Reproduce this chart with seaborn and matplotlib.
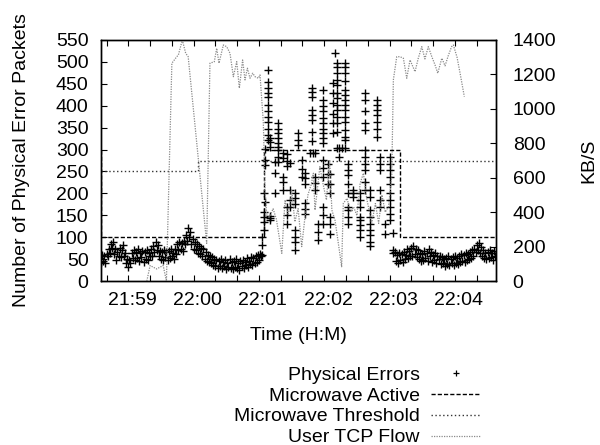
import numpy as np
import matplotlib
matplotlib.use("Agg")
import matplotlib.pyplot as plt
from matplotlib.lines import Line2D
from matplotlib.transforms import ScaledTranslation
import seaborn as sns

# time axis: seconds relative to 21:59:00
# quiet period before the microwave burst, one sample per second from t=-25
calm_left_start = -25
calm_left = [
    44, 60, 46, 58, 42, 62, 56, 74, 64, 84,
    76, 90, 62, 74, 48, 66, 58, 76, 54, 70,
    82, 56, 64, 42, 50, 32, 48, 40, 64, 52,
    70, 48, 66, 52, 72, 46, 64, 54, 68, 44,
    66, 50, 70, 48, 64, 56, 74, 58, 80, 66,
    88, 70, 82, 56, 68, 50, 66, 48, 70, 54,
    66, 48, 68, 52, 72, 56, 64, 50, 74, 62,
    84, 70, 90, 74, 86, 68, 92, 84, 104, 92,
    120, 100, 112, 84, 96, 74, 90, 70, 84, 64,
    80, 62, 76, 56, 72, 50, 66, 46, 60, 44,
    56, 40, 54, 36, 50, 34, 48, 30, 46, 34,
    50, 30, 44, 34, 48, 28, 42, 32, 50, 30,
    44, 28, 46, 32, 50, 30, 42, 26, 46, 34,
    48, 30, 44, 36, 52, 32, 46, 38, 54, 36,
    52, 40, 58, 44, 60, 48, 62, 56,
]
# quiet period after the burst
calm_right_start = 245
calm_right = [
    66, 46, 60, 42, 64, 48, 62, 44, 66, 50, 60,
    72, 52, 68, 56, 76, 58, 80, 62, 74, 54, 70,
    50, 64, 46, 62, 48, 68, 52, 64, 46, 72, 56, 66, 44, 60, 48, 64, 42, 58, 50,
    56, 38, 54, 40, 50, 34, 52, 38, 56, 36, 50, 40, 54, 36, 56, 42, 52, 38, 58, 44,
    62, 46, 60, 44, 64, 48, 62, 50, 66, 52, 70, 58, 74,
    66, 82, 70, 86, 64, 78, 58, 70, 52, 64,
    50, 66, 52, 70, 54, 64, 48, 68, 56,
]
# burst: several error counts per time stamp
burst_t = [122.6, 124.4, 126.0, 128.6, 130.5, 134.8, 137.8, 142.4, 145.5, 148.6,
           153.2, 156.2, 159.3, 162.4, 167.0, 168.5, 170.0, 171.5, 174.6, 179.2,
           183.8, 185.3, 188.4, 190.0, 191.5, 194.0, 196.0, 199.1, 202.1, 206.7,
           212.9, 217.5, 222.0, 228.2, 231.3, 235.9, 240.4, 243.5]
burst_v = [
    [59, 82, 101],
    [116, 135, 147, 158, 200],
    [181, 265, 276, 302],
    [321, 333, 348, 363, 375, 387, 402, 420, 430, 440, 455, 481],
    [139, 143, 148, 306, 318, 326],
    [200, 246, 272],
    [271, 283, 298, 306, 314, 326, 337, 348, 360],
    [208, 227, 238, 280, 291],
    [131, 150, 170, 262, 275, 290],
    [170, 185, 208, 270],
    [71, 90, 101, 116, 175, 190, 200],
    [310, 322, 337],
    [238, 256, 276],
    [154, 165, 177, 222, 234, 246],
    [291],
    [320, 341, 367, 379, 391, 421, 432, 440],
    [291],
    [208, 223, 238, 291],
    [93, 112, 131],
    [131, 150, 170, 238, 258, 276, 314, 326, 337, 348, 360, 372, 387, 399, 414, 437],
    [222, 245, 268],
    [108, 131, 147, 200, 222, 245],
    [337, 360, 380, 406, 429, 452],
    [520],
    [303, 341, 360, 375, 391, 402, 418, 429, 448, 459, 474, 489, 497],
    [284, 303],
    [303],
    [303, 322, 329, 344, 363, 375, 391, 402, 414, 425, 437, 456, 474, 489, 497],
    [131, 147, 162, 170, 200, 222, 242, 253, 268],
    [192, 200, 208],
    [101, 116, 128, 139, 147, 170, 185, 200],
    [208, 227, 253, 268, 283, 298, 344, 360, 387, 414, 429],
    [79, 90, 105, 116, 131, 147, 162, 192, 208],
    [329, 348, 363, 379, 391, 402, 414],
    [170, 185, 208, 253, 268, 283],
    [108, 131],
    [139, 154, 170, 185, 200, 222, 238, 253, 268, 283],
    [63, 71, 110],
]

active_t = [-25, -25, 125, 250, 338]
active_v = [300, 100, 300, 100, 100]
thresh_t = [-25, 64, 338]
thresh_v = [250, 275, 275]

tcp_t = [17, 20, 26, 32, 35, 40, 44.5, 46, 49.6, 52.7, 55, 72, 75, 79, 81.2, 83.3,
         87.3, 90.4, 93.4, 96.5, 99.6, 102, 105, 107.2, 109.4, 111.8, 114.3, 116.4,
         119.5, 121, 124, 125.6, 127.2, 130, 133, 136, 141, 144, 147, 150, 153, 156,
         159.3, 162, 165, 168, 170, 171.5, 176, 179, 182, 185, 187, 190, 196, 197.5,
         201, 204, 207, 210, 213, 216, 219, 223.6, 227, 230, 233, 236, 239, 242,
         243.5, 246.6, 249.6, 252.7, 255.8, 258.8, 263.4, 266.4, 269.6, 272.5, 275.6,
         279, 281.8, 284.3, 288, 291, 294, 297, 298.6, 302, 304.8, 308.7]
tcp_kbs = [0, 90, 70, 90, 0, 1265, 1303, 1313, 1400, 1323, 1303, 219, 1265, 1274, 1352, 1265,
           1371, 1361, 1323, 1187, 1274, 1120, 1284, 1168, 1236, 1178, 1207, 1187,
           1178, 1197, 925, 529, 383, 374, 420, 360, 161, 471, 383, 529, 344, 420,
           200, 354, 500, 560, 626, 412, 664, 560, 471, 703, 412, 350, 83, 451,
           480, 400, 430, 380, 568, 626, 480, 335, 450, 335, 500, 400, 432, 606,
           1168, 1303, 1303, 1294, 1178, 1284, 1216, 1294, 1361, 1290, 1361,
           1300, 1255, 1207, 1294, 1250, 1310, 1361, 1371, 1300, 1207, 1071]

minute_ticks = [0, 60, 120, 180, 240, 300]
minute_labels = ["21:59", "22:00", "22:01", "22:02", "22:03", "22:04"]
legend_labels = ["Physical Errors", "Microwave Active", "Microwave Threshold", "User TCP Flow"]

err_t = (list(calm_left_start + np.arange(len(calm_left)))
         + [t for t, vs in zip(burst_t, burst_v) for _ in vs]
         + list(calm_right_start + np.arange(len(calm_right))))
err_v = calm_left + [v for vs in burst_v for v in vs] + calm_right

sns.set_style("ticks", {"axes.edgecolor": "black", "text.color": "black",
                        "xtick.color": "black", "ytick.color": "black",
                        "axes.labelcolor": "black"})
plt.rcParams["font.family"] = ["Liberation Sans", "DejaVu Sans"]
plt.rcParams["font.size"] = 14

fig = plt.figure(figsize=(6, 4.45), dpi=100)
ax = fig.add_axes([101 / 600, 1 - 281 / 445, 395 / 600, 241 / 445])
ax2 = ax.twinx()

dash_active = (0, (3, 1.5))
dot_thresh = (0, (1, 1.8))
dot_tcp = (0, (1, 1))

sns.scatterplot(x=err_t, y=err_v, ax=ax, marker="+", s=36, color="black",
                linewidth=1.0, legend=False, zorder=3)
sns.lineplot(x=active_t, y=active_v, ax=ax, estimator=None, sort=False,
             drawstyle="steps-post", color="black", lw=1, linestyle=dash_active)
sns.lineplot(x=thresh_t, y=thresh_v, ax=ax, estimator=None, sort=False,
             drawstyle="steps-post", color="#333333", lw=1, linestyle=dot_thresh)
sns.lineplot(x=tcp_t, y=tcp_kbs, ax=ax2, estimator=None, sort=False,
             color="#8a8a8a", lw=0.9, linestyle=dot_tcp)

ax.set_xlim(-25.1, 337.8)
ax.set_ylim(0, 550)
ax2.set_ylim(0, 1400)
ax.set_yticks(range(0, 551, 50))
ax2.set_yticks(range(0, 1401, 200))
ax.set_xticks(minute_ticks, minute_labels)
ax.set_xticks(range(-20, 338, 20), minor=True)

for a in (ax, ax2):
    for s in a.spines.values():
        s.set_linewidth(1)
        s.set_color("black")

ax.tick_params(axis="x", which="both", direction="in", top=True, bottom=True,
               length=4, width=0.8, pad=8, labelsize=14)
ax.tick_params(axis="y", direction="in", left=True, right=False,
               length=4, width=0.8, pad=9, labelsize=14)
ax2.tick_params(axis="y", direction="in", right=True, left=False,
                length=4, width=0.8, pad=12, labelsize=14)

shift = ScaledTranslation(4 / 100, 0, fig.dpi_scale_trans)
for lab in ax.get_xticklabels():
    lab.set_transform(lab.get_transform() + shift)

ax.set_xlabel("Time (H:M)", fontsize=14, labelpad=13)
ax.set_ylabel("Number of Physical Error Packets", fontsize=14)
ax.yaxis.set_label_coords(-0.18, 0.5)
ax2.set_ylabel("KB/S", fontsize=14)
ax2.yaxis.set_label_coords(1.213, 0.5)

handles = [
    Line2D([], [], ls="none", marker="+", color="black", ms=5, mew=0.9),
    Line2D([], [], color="black", lw=1, ls=dash_active),
    Line2D([], [], color="#333333", lw=1, ls=dot_thresh),
    Line2D([], [], color="#8a8a8a", lw=0.9, ls=dot_tcp),
]
fig.legend(handles, legend_labels, loc="upper right",
           bbox_to_anchor=(480 / 600, 1 - 366 / 445), markerfirst=False,
           frameon=False, handlelength=2.5, handletextpad=0.6, labelspacing=0.17,
           borderaxespad=0, borderpad=0, fontsize=14)

fig.savefig("out.png", dpi=100)
